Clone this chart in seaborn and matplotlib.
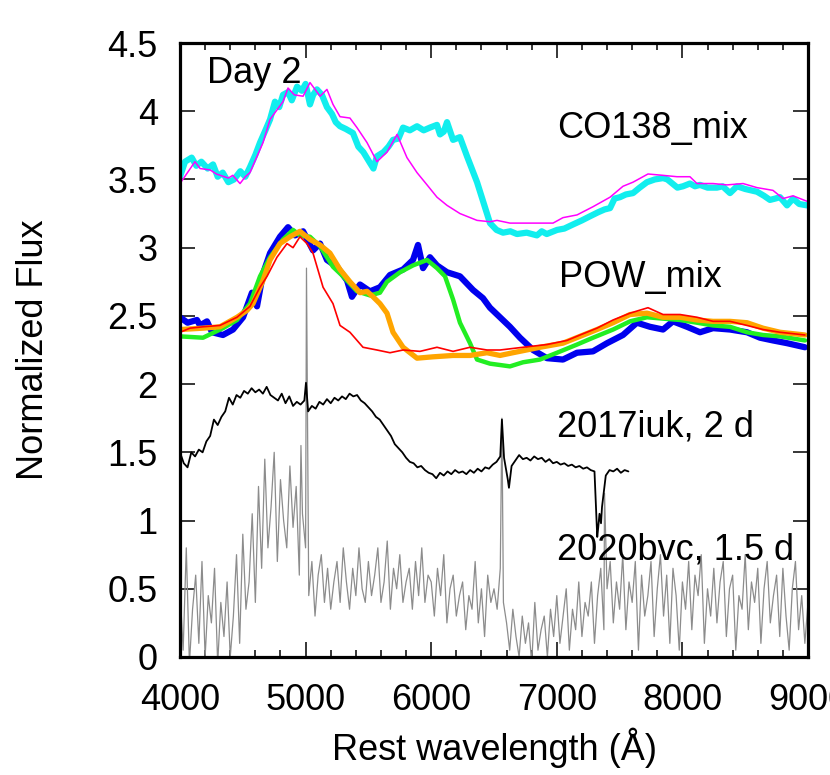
import numpy as np
import matplotlib
matplotlib.use('Agg')
import matplotlib.pyplot as plt
from matplotlib.ticker import MultipleLocator, FuncFormatter
import seaborn as sns

# CO138_mix models (thick cyan, thin magenta)
co_cyan_wl = [4000, 4040, 4093, 4130, 4170, 4220, 4263, 4300, 4340, 4385, 4430, 4480, 4520, 4557,
              4600, 4637, 4680, 4717, 4756, 4790, 4820, 4860, 4890, 4932, 4970, 5000, 5035, 5060,
              5090, 5130, 5170, 5210, 5240, 5274, 5320, 5377, 5420, 5460, 5513, 5540, 5568, 5620,
              5660, 5696, 5740, 5776, 5830, 5887, 5940, 5990, 6046, 6070, 6100, 6126, 6174, 6229,
              6285, 6365, 6468, 6520, 6572, 6630, 6683, 6760, 6842, 6880, 6920, 7002, 7060, 7129,
              7200, 7264, 7330, 7380, 7424, 7460, 7503, 7550, 7607, 7660, 7718, 7780, 7846, 7880,
              7920, 7960, 8005, 8060, 8100, 8140, 8200, 8275, 8320, 8379, 8435, 8500, 8594, 8650,
              8697, 8740, 8777, 8833, 8881, 8930, 8992]
co_cyan_flux = [3.52, 3.63, 3.66, 3.60, 3.63, 3.58, 3.61, 3.52, 3.55, 3.48, 3.50, 3.56, 3.52, 3.59,
                3.68, 3.77, 3.86, 3.94, 4.07, 4.03, 4.12, 4.14, 4.08, 4.18, 4.15, 4.20, 4.05, 4.12,
                4.16, 4.12, 4.03, 3.98, 3.92, 3.89, 3.87, 3.84, 3.74, 3.70, 3.62, 3.58, 3.67, 3.70,
                3.74, 3.79, 3.80, 3.88, 3.86, 3.89, 3.86, 3.88, 3.90, 3.83, 3.85, 3.92, 3.79, 3.81,
                3.67, 3.48, 3.18, 3.13, 3.11, 3.12, 3.10, 3.11, 3.09, 3.12, 3.10, 3.13, 3.14, 3.17,
                3.20, 3.23, 3.26, 3.28, 3.29, 3.36, 3.37, 3.39, 3.40, 3.44, 3.48, 3.50, 3.51, 3.50,
                3.47, 3.44, 3.45, 3.47, 3.45, 3.46, 3.44, 3.44, 3.45, 3.40, 3.45, 3.43, 3.41, 3.38,
                3.35, 3.36, 3.37, 3.31, 3.36, 3.32, 3.31]

co_mag_wl = [4000, 4119, 4160, 4239, 4290, 4385, 4420, 4478, 4520, 4557, 4661, 4717, 4820, 4860,
             4910, 4980, 5035, 5115, 5170, 5218, 5274, 5353, 5409, 5489, 5568, 5648, 5728, 5807,
             5887, 5967, 6046, 6126, 6229, 6365, 6468, 6524, 6627, 6787, 6970, 7049, 7161, 7288,
             7424, 7527, 7607, 7726, 7846, 7957, 8060, 8116, 8244, 8355, 8483, 8594, 8721, 8801,
             8881, 8992]
co_mag_flux = [3.47, 3.63, 3.58, 3.57, 3.54, 3.51, 3.53, 3.47, 3.52, 3.55, 3.77, 3.94, 4.07, 4.17,
               4.12, 4.11, 4.21, 4.11, 4.16, 4.05, 3.96, 3.95, 3.88, 3.77, 3.63, 3.70, 3.83, 3.66,
               3.55, 3.46, 3.37, 3.31, 3.25, 3.20, 3.19, 3.20, 3.18, 3.18, 3.18, 3.22, 3.24, 3.30,
               3.37, 3.45, 3.48, 3.54, 3.53, 3.52, 3.52, 3.47, 3.47, 3.46, 3.47, 3.44, 3.42, 3.36,
               3.38, 3.34]

# POW_mix models
pow_blue_wl = [4000, 4060, 4135, 4159, 4215, 4255, 4342, 4422, 4502, 4573, 4613, 4661, 4717, 4796,
               4860, 4916, 4980, 5059, 5115, 5170, 5250, 5330, 5369, 5433, 5513, 5592, 5672, 5776,
               5855, 5895, 5935, 5990, 6046, 6126, 6229, 6333, 6412, 6468, 6627, 6707, 6811, 6922,
               7049, 7161, 7288, 7400, 7527, 7638, 7742, 7846, 7925, 8037, 8140, 8244, 8379, 8514,
               8618, 8721, 8833, 8976]
pow_blue_flux = [2.49, 2.45, 2.47, 2.43, 2.46, 2.38, 2.36, 2.40, 2.49, 2.67, 2.57, 2.81, 2.96, 3.08,
                 3.15, 3.09, 3.12, 2.98, 3.03, 2.91, 2.86, 2.76, 2.64, 2.73, 2.68, 2.71, 2.80, 2.84,
                 2.91, 3.02, 2.85, 2.93, 2.87, 2.82, 2.79, 2.69, 2.63, 2.56, 2.42, 2.34, 2.25, 2.19,
                 2.18, 2.23, 2.24, 2.30, 2.36, 2.45, 2.42, 2.40, 2.46, 2.42, 2.38, 2.41, 2.40, 2.38,
                 2.34, 2.32, 2.30, 2.27]

pow_green_wl = [4000, 4183, 4342, 4454, 4557, 4637, 4717, 4820, 4900, 4955, 5035, 5115, 5218, 5298,
                5409, 5513, 5592, 5648, 5752, 5855, 5967, 6046, 6110, 6174, 6229, 6309, 6365, 6468,
                6548, 6627, 6731, 6866, 7002, 7161, 7288, 7448, 7583, 7718, 7846, 7981, 8116, 8244,
                8379, 8514, 8642, 8777, 8976]
pow_green_flux = [2.35, 2.34, 2.41, 2.47, 2.59, 2.79, 2.93, 3.06, 3.13, 3.09, 3.08, 3.01, 2.86, 2.79,
                  2.68, 2.65, 2.67, 2.75, 2.82, 2.87, 2.91, 2.85, 2.79, 2.62, 2.45, 2.30, 2.18, 2.15,
                  2.14, 2.13, 2.16, 2.18, 2.23, 2.29, 2.34, 2.40, 2.46, 2.49, 2.48, 2.47, 2.45, 2.43,
                  2.42, 2.38, 2.36, 2.35, 2.32]

pow_orange_wl = [4000, 4183, 4318, 4454, 4533, 4581, 4661, 4717, 4796, 4876, 4955, 5035, 5115, 5194,
                 5274, 5353, 5433, 5489, 5537, 5592, 5648, 5696, 5776, 5887, 6014, 6174, 6309, 6444,
                 6548, 6651, 6866, 7049, 7185, 7320, 7448, 7583, 7718, 7846, 7981, 8116, 8244, 8379,
                 8514, 8642, 8777, 8976]
pow_orange_flux = [2.40, 2.41, 2.42, 2.49, 2.54, 2.59, 2.76, 2.91, 3.03, 3.08, 3.12, 3.06, 3.02, 2.96,
                   2.84, 2.75, 2.67, 2.68, 2.64, 2.59, 2.52, 2.38, 2.27, 2.19, 2.20, 2.21, 2.21, 2.23,
                   2.21, 2.23, 2.27, 2.30, 2.35, 2.40, 2.45, 2.51, 2.52, 2.49, 2.49, 2.47, 2.46, 2.46,
                   2.45, 2.41, 2.38, 2.36]

pow_red_wl = [4000, 4080, 4183, 4318, 4454, 4557, 4637, 4693, 4772, 4852, 4900, 4955, 5011, 5059,
              5139, 5218, 5274, 5353, 5457, 5568, 5672, 5776, 5911, 6046, 6174, 6309, 6444, 6548,
              6731, 6922, 7081, 7185, 7320, 7448, 7583, 7726, 7846, 7981, 8116, 8244, 8379, 8514,
              8642, 8777, 8976]
pow_red_flux = [2.38, 2.41, 2.42, 2.43, 2.49, 2.57, 2.71, 2.79, 2.93, 3.03, 3.00, 3.08, 3.03, 2.96,
                2.71, 2.59, 2.43, 2.38, 2.27, 2.25, 2.23, 2.25, 2.24, 2.27, 2.24, 2.27, 2.25, 2.25,
                2.27, 2.29, 2.32, 2.36, 2.41, 2.47, 2.52, 2.56, 2.51, 2.51, 2.49, 2.46, 2.46, 2.43,
                2.40, 2.38, 2.36]

# SN 2017iuk, 2 d: continuum sampled every 30 A from 4000 A, plus narrow features
iuk_flux = [1.50, 1.42, 1.39, 1.50, 1.47, 1.52, 1.50, 1.58, 1.62, 1.74,
            1.70, 1.76, 1.80, 1.90, 1.85, 1.92, 1.90, 1.95, 1.93, 1.97,
            1.94, 1.96, 1.93, 1.98, 1.92, 1.90, 1.88, 1.93, 1.86, 1.91,
            1.84, 1.87, 1.85, 1.88, 1.80, 1.84, 1.82, 1.87, 1.85, 1.89,
            1.86, 1.90, 1.88, 1.91, 1.89, 1.93, 1.91, 1.92, 1.88, 1.86,
            1.83, 1.80, 1.76, 1.74, 1.70, 1.66, 1.62, 1.56, 1.53, 1.50,
            1.46, 1.43, 1.42, 1.39, 1.40, 1.37, 1.35, 1.34, 1.31, 1.35,
            1.33, 1.36, 1.34, 1.37, 1.35, 1.36, 1.34, 1.37, 1.35, 1.38,
            1.36, 1.39, 1.38, 1.41, 1.43, 1.47, 1.46, 1.30, 1.40, 1.44,
            1.48, 1.45, 1.46, 1.44, 1.47, 1.45, 1.46, 1.43, 1.45, 1.42,
            1.43, 1.41, 1.42, 1.40, 1.41, 1.39, 1.40, 1.38, 1.39, 1.37,
            1.36, 0.95, 1.10, 1.33, 1.37, 1.36, 1.38, 1.35, 1.37, 1.36]
iuk_line_wl = [5003, 6563, 6619, 7322, 7340, 7352]
iuk_line_flux = [2.01, 1.74, 1.24, 0.88, 1.05, 0.98]

# SN 2020bvc, 1.5 d: sampled every 25 A from 4000 A to 9000 A, plus emission spikes
bvc_flux = [0.50, 0.05, 0.80, -0.05, 0.35, 0.60, 0.10, 0.70, 0.00, 0.45,
            0.25, 0.65, -0.05, 0.40, 0.15, 0.55, 0.00, 0.30, 0.75, 0.10,
            0.90, 0.35, 0.55, 1.05, 0.40, 1.25, 0.65, 1.45, 0.80, 1.10,
            1.50, 0.70, 1.30, 1.00, 0.80, 1.40, 0.95, 1.25, 0.60, 1.05,
            0.80, 0.45, 0.70, 0.30, 0.60, 0.75, 0.40, 0.65, 0.35, 0.55,
            0.70, 0.40, 0.80, 0.55, 0.35, 0.65, 0.45, 0.80, 0.50, 0.40,
            0.70, 0.45, 0.60, 0.80, 0.40, 0.55, 0.85, 0.35, 0.65, 0.50,
            0.75, 0.40, 0.55, 0.65, 0.35, 0.70, 0.45, 0.80, 0.40, 0.60,
            0.55, 0.30, 0.65, 0.45, 0.75, 0.25, 0.50, 0.60, 0.30, 0.45,
            0.55, 0.20, 0.45, 0.35, 0.70, 0.25, 0.50, 0.15, 0.60, 0.40,
            0.50, 0.35, 0.65, 0.40, 0.25, 0.05, 0.35, 0.15, 0.00, 0.30,
            0.10, 0.25, -0.05, 0.40, 0.05, 0.20, 0.30, 0.00, 0.35, 0.15,
            0.45, 0.10, 0.30, 0.50, 0.05, 0.35, 0.20, 0.55, 0.15, 0.40,
            0.30, 0.55, 0.10, 0.45, 0.65, 0.20, 0.50, 0.70, 0.25, 0.55,
            0.35, 0.75, 0.20, 0.55, 0.40, 0.70, 0.05, 0.60, 0.30, 0.45,
            0.70, 0.15, 0.50, 0.75, 0.30, 0.60, 0.10, 0.65, 0.45, 0.05,
            0.55, 0.35, 0.70, 0.20, 0.60, 0.45, 0.75, 0.10, 0.50, 0.30,
            0.65, 0.25, 0.55, 0.70, 0.15, 0.50, 0.60, 0.05, 0.45, 0.35,
            0.75, 0.20, 0.55, 0.40, 0.65, 0.10, 0.50, 0.70, 0.25, 0.45,
            0.60, 0.15, 0.65, 0.30, 0.05, 0.50, 0.70, 0.20, 0.45, 0.10,
            0.40]
bvc_line_wl = [4963, 5007, 6563, 7380]
bvc_line_flux = [1.55, 2.85, 1.75, 1.20]

labels = ['Day 2', 'CO138_mix', 'POW_mix', '2017iuk, 2 d', '2020bvc, 1.5 d']
label_x = [4215, 7002, 7018, 7002, 7002]
label_y = [4.21, 3.805, 2.713, 1.613, 0.711]


def merge_lines(wl, flux, line_wl, line_flux):
    # put narrow line points into the sampled spectrum
    w = np.concatenate([wl, line_wl])
    f = np.concatenate([flux, line_flux])
    order = np.argsort(w)
    return w[order], f[order]


iuk_wl = 4000 + 30 * np.arange(len(iuk_flux))
iuk_w, iuk_f = merge_lines(iuk_wl, iuk_flux, iuk_line_wl, iuk_line_flux)
bvc_wl = 4000 + 25 * np.arange(len(bvc_flux))
bvc_w, bvc_f = merge_lines(bvc_wl, bvc_flux, bvc_line_wl, bvc_line_flux)

sns.set_style('ticks')
plt.rcParams['font.family'] = ['Liberation Sans', 'DejaVu Sans']
plt.rcParams['text.color'] = 'black'
plt.rcParams['axes.labelcolor'] = 'black'
plt.rcParams['xtick.color'] = 'black'
plt.rcParams['ytick.color'] = 'black'

fig = plt.figure(figsize=(8.3, 7.75), dpi=100)
ax = fig.add_axes([180 / 830, 1 - 657 / 775, 628 / 830, 614 / 775])

series = [
    (bvc_w, bvc_f, '#8c8c8c', 0.9),
    (iuk_w, iuk_f, 'black', 1.3),
    (pow_blue_wl, pow_blue_flux, '#0000ee', 4.5),
    (pow_green_wl, pow_green_flux, '#22ee22', 3.2),
    (pow_orange_wl, pow_orange_flux, '#ffa500', 3.8),
    (pow_red_wl, pow_red_flux, '#ff0000', 1.2),
    (co_cyan_wl, co_cyan_flux, '#11eeee', 4.5),
    (co_mag_wl, co_mag_flux, '#ff00ff', 1.1),
]
for x, y, c, lw in series:
    sns.lineplot(x=np.asarray(x), y=np.asarray(y), ax=ax, color=c, linewidth=lw,
                 sort=False, estimator=None)

ax.set_xlim(4000, 9000)
ax.set_ylim(0, 4.5)
ax.xaxis.set_major_locator(MultipleLocator(1000))
ax.xaxis.set_minor_locator(MultipleLocator(200))
ax.yaxis.set_major_locator(MultipleLocator(0.5))
ax.yaxis.set_major_formatter(FuncFormatter(lambda v, p: '%g' % v))
ax.tick_params(which='both', direction='in', top=True, right=True, width=1.1,
               colors='black', labelcolor='black')
ax.tick_params(which='major', length=11, labelsize=26)
ax.tick_params(axis='y', which='major', pad=16)
ax.tick_params(axis='x', which='major', pad=19)
ax.tick_params(which='minor', length=5)
for s in ax.spines.values():
    s.set_linewidth(2.3)
    s.set_color('black')

ax.set_xlabel('Rest wavelength (Å)', fontsize=26, color='black')
ax.set_ylabel('Normalized Flux', fontsize=26, color='black')
ax.xaxis.set_label_coords(0.5, -0.115)
ax.yaxis.set_label_coords(-0.205, 0.5)

for t, tx, ty in zip(labels, label_x, label_y):
    ax.text(tx, ty, t, fontsize=26, ha='left', va='baseline', color='black')

fig.savefig('out.png', dpi=100)
